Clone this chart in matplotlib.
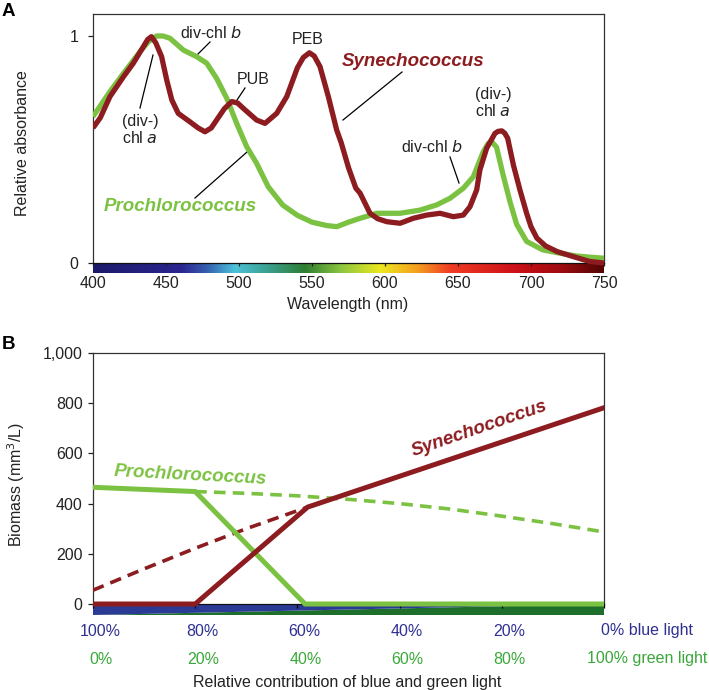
import numpy as np
import matplotlib
matplotlib.use("Agg")
import matplotlib.pyplot as plt
from matplotlib.colors import LinearSegmentedColormap

plt.rcParams['font.family'] = ['Liberation Sans', 'DejaVu Sans']

# ---------------- Data: panel A (absorbance spectra) ----------------
syn_wl = [400, 405, 411.6, 420.8, 427.6, 434.5, 437.5, 440, 443, 447, 450.5, 454, 458.4,
          466.4, 472, 476.7, 481, 484.7, 490, 495, 499, 503, 512, 517.8, 525.8, 532.7, 540,
          544, 548.2, 551.5, 555.5, 561.2, 566.9, 570, 575, 580, 583, 589.7, 595, 601.2, 610.3,
          619.4, 628.5, 637.7, 646.8, 653.6, 658.2, 662.8, 665, 669.6, 675.3, 677.5, 680, 682,
          684, 688, 692.5, 697, 700, 704, 710, 718, 729, 740, 750]
syn_abs = [0.595, 0.64, 0.733, 0.82, 0.88, 0.953, 0.985, 0.997, 0.97, 0.909, 0.806, 0.718,
           0.659, 0.622, 0.595, 0.578, 0.595, 0.63, 0.68, 0.711, 0.705, 0.681, 0.63, 0.615,
           0.659, 0.733, 0.86, 0.905, 0.926, 0.912, 0.865, 0.733, 0.586, 0.53, 0.42, 0.33,
           0.307, 0.219, 0.195, 0.182, 0.175, 0.197, 0.211, 0.219, 0.204, 0.211, 0.248, 0.322,
           0.41, 0.505, 0.571, 0.58, 0.582, 0.572, 0.55, 0.43, 0.32, 0.219, 0.16, 0.11, 0.075,
           0.05, 0.028, 0.007, 0.0]

pro_wl = [400, 411.6, 420.8, 432.2, 438, 443.6, 448, 452.7, 461.9, 471, 477.9, 484.7, 491.6,
          498.4, 505.3, 512, 520, 530, 540, 550, 560, 567, 575, 583, 594.3, 610.3, 624, 635.4,
          644.5, 653.6, 660.5, 667.3, 670.7, 673, 676.4, 681, 685.6, 690.2, 697, 708, 720,
          731, 740, 750]
pro_abs = [0.645, 0.755, 0.835, 0.931, 0.975, 1.0, 1.0, 0.99, 0.938, 0.909, 0.88, 0.813,
           0.726, 0.615, 0.512, 0.44, 0.336, 0.255, 0.21, 0.18, 0.165, 0.16, 0.18, 0.197,
           0.219, 0.219, 0.233, 0.256, 0.285, 0.329, 0.38, 0.49, 0.527, 0.535, 0.51, 0.385,
           0.27, 0.17, 0.095, 0.058, 0.043, 0.031, 0.026, 0.021]

wl_ticks = [400, 450, 500, 550, 600, 650, 700, 750]

# ---------------- Data: panel B (biomass) ----------------
pro_solid_x = [0, 20, 41.5, 100]
pro_solid_y = [465, 448, 0, 0]
pro_dash_x = [20, 30, 40, 50, 60, 70, 80, 90, 100]
pro_dash_y = [448, 441, 431, 417, 400, 378, 350, 320, 287]
syn_solid_x = [0, 20, 42, 100]
syn_solid_y = [0, 0, 386, 782]
syn_dash_x = [0, 10, 20, 30, 42]
syn_dash_y = [55, 140, 222, 300, 386]

blue_pos = [0, 20, 40, 60, 80, 100]
blue_labels = ['100%', '80%', '60%', '40%', '20%', '0% blue light']
green_labels = ['0%', '20%', '40%', '60%', '80%', '100% green light']
biomass_ticks = [0, 200, 400, 600, 800, 1000]
biomass_labels = ['0', '200', '400', '600', '800', '1,000']

GREEN = '#7cc242'
RED = '#8c1c20'
TXT = '#222222'
BLUE_TXT = '#2e3192'
GREEN_TXT = '#3aa83a'

W, H = 709, 690
fig = plt.figure(figsize=(W / 100, H / 100), dpi=100)

def fx(px):
    return px / W

def fy(py):
    return 1 - py / H

# ================= Panel A =================
axA = fig.add_axes([fx(93), fy(273), fx(604) - fx(93), fy(14) - fy(273)])
a_bot = -(273 - 263) / 227
a_top = (263 - 14) / 227
axA.set_xlim(400, 750)
axA.set_ylim(a_bot, a_top)

spec_cmap = LinearSegmentedColormap.from_list('spec', [
    (0.0, '#1a1a6a'), ((460 - 400) / 350, '#2b2590'), ((478 - 400) / 350, '#3560b0'),
    ((497 - 400) / 350, '#4cc3d9'), ((520 - 400) / 350, '#3a9f8c'),
    ((545 - 400) / 350, '#2e7d32'), ((570 - 400) / 350, '#8cc63f'),
    ((597 - 400) / 350, '#ece81f'), ((622 - 400) / 350, '#f5a020'),
    ((645 - 400) / 350, '#f03c23'), ((690 - 400) / 350, '#cc1018'),
    ((720 - 400) / 350, '#a00c10'), (1.0, '#520505')])
grad = np.linspace(0, 1, 512).reshape(1, -1)
axA.imshow(grad, extent=[400, 750, a_bot, 0], aspect='auto', cmap=spec_cmap, zorder=0)

axA.plot(pro_wl, pro_abs, color=GREEN, lw=3.8, solid_joinstyle='round', solid_capstyle='butt', zorder=3)
axA.plot(syn_wl, syn_abs, color=RED, lw=3.8, solid_joinstyle='round', solid_capstyle='butt', zorder=4)

for s in ['left', 'right', 'top']:
    axA.spines[s].set_color('#333333')
    axA.spines[s].set_linewidth(0.9)
axA.spines['left'].set_bounds(0, a_top)
axA.spines['right'].set_bounds(0, a_top)
axA.spines['bottom'].set_position(('data', 0))
axA.spines['bottom'].set_color('#111111')
axA.spines['bottom'].set_linewidth(0.9)

axA.set_xticks(wl_ticks)
axA.set_xticklabels([str(t) for t in wl_ticks])
axA.tick_params(axis='x', direction='out', length=2.5, width=0.9, pad=7, labelsize=11.5,
                colors=TXT)
axA.set_yticks([0, 1])
axA.set_yticklabels(['0', '1'])
axA.tick_params(axis='y', direction='out', length=3.5, width=0.9, pad=7, labelsize=11.5,
                colors=TXT)
axA.set_ylabel('Relative absorbance', fontsize=11.5, color=TXT)
axA.yaxis.set_label_coords((30 - 93) / 511, 0.5)
fig.text(fx(348), fy(304), 'Wavelength (nm)', ha='center', va='center', fontsize=11.5, color=TXT)

def wl(px):
    return 400 + (px - 93) / 1.46

def ab(py):
    return (263 - py) / 227

ann = dict(fontsize=11.5, color=TXT, ha='center', va='center')
lk = dict(color='black', lw=0.9)
axA.text(wl(140), ab(130), '(div-)\nchl $\\it{a}$', linespacing=1.05, **ann)
axA.plot([wl(140), wl(153)], [ab(108), ab(55)], **lk)
axA.text(wl(211), ab(33), 'div-chl $\\it{b}$', **ann)
axA.plot([wl(210), wl(197)], [ab(42), ab(55)], **lk)
axA.text(wl(253), ab(80), 'PUB', **ann)
axA.plot([wl(245), wl(237)], [ab(88), ab(100)], **lk)
axA.text(wl(308), ab(40), 'PEB', **ann)
axA.text(wl(180), ab(207), 'Prochlorococcus', fontsize=13.5, fontweight='bold', fontstyle='italic',
         color=GREEN, ha='center', va='center')
axA.plot([wl(195), wl(247)], [ab(198), ab(152)], **lk)
axA.text(wl(413), ab(62), 'Synechococcus', fontsize=13.5, fontweight='bold', fontstyle='italic',
         color=RED, ha='center', va='center')
axA.plot([wl(402), wl(343)], [ab(72), ab(120)], **lk)
axA.text(wl(493), ab(103), '(div-)\nchl $\\it{a}$', linespacing=1.05, **ann)
axA.text(wl(432), ab(147), 'div-chl $\\it{b}$', **ann)
axA.plot([wl(450), wl(459)], [ab(157), ab(183)], **lk)

fig.text(fx(2), fy(11), 'A', fontsize=13.5, fontweight='bold', ha='left', va='center', color='black')

# ================= Panel B =================
axB = fig.add_axes([fx(93), fy(615), fx(604) - fx(93), fy(353) - fy(615)])
b_bot = -(615 - 604) / 0.251
axB.set_xlim(0, 100)
axB.set_ylim(b_bot, 1000)

axB.fill([0, 100, 100], [b_bot, b_bot, 0], color='#1e6e2c', lw=0, zorder=0)
axB.fill([0, 0, 100], [b_bot, 0, 0], color='#2a3a95', lw=0, zorder=0)

dash = (0, (3.2, 2.0))
axB.plot(pro_dash_x, pro_dash_y, color=GREEN, lw=2.6, linestyle=dash, zorder=3)
axB.plot(syn_dash_x, syn_dash_y, color=RED, lw=2.6, linestyle=dash, zorder=3)
axB.plot(pro_solid_x, pro_solid_y, color=GREEN, lw=3.6, solid_joinstyle='miter', zorder=4)
axB.plot(syn_solid_x, syn_solid_y, color=RED, lw=3.6, solid_joinstyle='miter', zorder=5)

for s in ['left', 'right', 'top']:
    axB.spines[s].set_color('#333333')
    axB.spines[s].set_linewidth(0.9)
axB.spines['left'].set_bounds(0, 1000)
axB.spines['right'].set_bounds(0, 1000)
axB.spines['bottom'].set_position(('data', 0))
axB.spines['bottom'].set_color('#111111')
axB.spines['bottom'].set_linewidth(0.9)

axB.set_xticks(blue_pos)
axB.set_xticklabels([])
axB.tick_params(axis='x', direction='out', length=3, width=0.9)
axB.set_yticks(biomass_ticks)
axB.set_yticklabels(biomass_labels)
axB.tick_params(axis='y', direction='out', length=3.5, width=0.9, pad=4, labelsize=11.5,
                colors=TXT)
axB.set_ylabel('Biomass (mm$^{3}$/L)', fontsize=11.5, color=TXT)
axB.yaxis.set_label_coords((27 - 93) / 511, 0.5)

def bx(p):
    return 93 + p / 100 * 511

for p, lb, lg in zip(blue_pos, blue_labels, green_labels):
    if p < 100:
        fig.text(fx(bx(p) + 7), fy(631), lb, ha='center', va='center', fontsize=11.5, color=BLUE_TXT)
        fig.text(fx(bx(p) + 8), fy(659), lg, ha='center', va='center', fontsize=11.5, color=GREEN_TXT)
    else:
        fig.text(fx(601), fy(631), lb, ha='left', va='center', fontsize=11.5, color=BLUE_TXT)
        fig.text(fx(587), fy(659), lg, ha='left', va='center', fontsize=11.5, color=GREEN_TXT)

fig.text(fx(347), fy(682), 'Relative contribution of blue and green light', ha='center',
         va='center', fontsize=11.5, color=TXT)

axB.text(19, 510, 'Prochlorococcus', fontsize=13.5, fontweight='bold', fontstyle='italic',
         color=GREEN, ha='center', va='center', rotation=-3, rotation_mode='anchor')
axB.text(75.7, 697, 'Synechococcus', fontsize=13.5, fontweight='bold', fontstyle='italic',
         color=RED, ha='center', va='center', rotation=19, rotation_mode='anchor')

fig.text(fx(2), fy(344), 'B', fontsize=13.5, fontweight='bold', ha='left', va='center', color='black')

fig.savefig('out.png', dpi=100)
